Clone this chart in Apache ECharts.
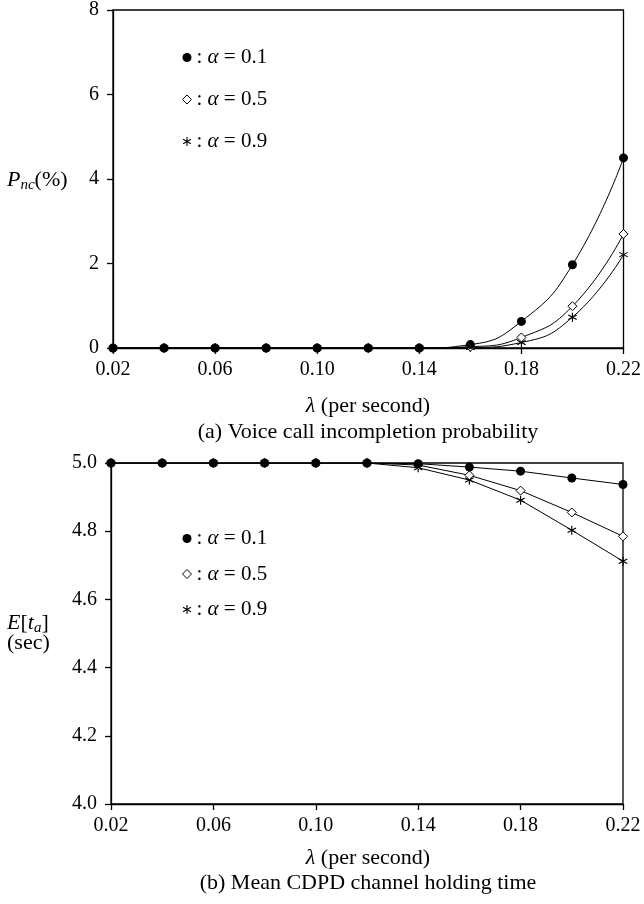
<!DOCTYPE html>
<html>
<head>
<meta charset="utf-8">
<script src="https://cdn.jsdelivr.net/npm/echarts@6/dist/echarts.min.js"></script>
<style>
  html, body { margin: 0; padding: 0; background: #fff; }
  #chart { width: 644px; height: 904px; }
</style>
</head>
<body>
<div id="chart"></div>
<script>
// Arrival rate λ (per second)
const lambdaValues = ['0.02', '0.04', '0.06', '0.08', '0.10', '0.12', '0.14', '0.16', '0.18', '0.20', '0.22'];
const seriesNames = ['α = 0.1', 'α = 0.5', 'α = 0.9'];

// (a) Voice call incompletion probability P_nc (%)
const pncAlpha01 = [0, 0, 0, 0, 0, 0, 0, 0.08, 0.63, 1.97, 4.50];
const pncAlpha05 = [0, 0, 0, 0, 0, 0, 0, 0.03, 0.25, 0.99, 2.70];
const pncAlpha09 = [0, 0, 0, 0, 0, 0, 0, 0.01, 0.13, 0.73, 2.21];
const pncTicks = { min: 0, max: 8, step: 2 };

// (b) Mean CDPD channel holding time E[t_a] (sec)
const holdAlpha01 = [5.0, 5.0, 5.0, 5.0, 5.0, 5.0, 4.998, 4.988, 4.976, 4.956, 4.937];
const holdAlpha05 = [5.0, 5.0, 5.0, 5.0, 5.0, 5.0, 4.994, 4.964, 4.919, 4.855, 4.785];
const holdAlpha09 = [5.0, 5.0, 5.0, 5.0, 5.0, 5.0, 4.986, 4.950, 4.891, 4.803, 4.712];
const holdTicks = { min: 4.0, max: 5.0, step: 0.2 };

const FONT = '"Liberation Serif", "DejaVu Serif", serif';
const STAR = 'path://M-1.2,-10L1.2,-10L1.2,10L-1.2,10Z' +
  'M8.06,-6.04L9.26,-3.96L-8.06,6.04L-9.26,3.96Z' +
  'M-9.26,-3.96L-8.06,-6.04L9.26,3.96L8.06,6.04Z';

const markerStyles = [
  { symbol: 'circle', size: 9, itemStyle: { color: '#000', borderColor: '#000', borderWidth: 0 } },
  { symbol: 'diamond', size: 9, itemStyle: { color: '#fff', borderColor: '#000', borderWidth: 1 } },
  { symbol: STAR, size: 9, itemStyle: { color: '#000', borderColor: '#000', borderWidth: 0 } }
];

function makeSeries(idx, gridIdx, data, smooth) {
  const m = markerStyles[idx];
  return {
    type: 'line',
    name: seriesNames[idx],
    xAxisIndex: gridIdx,
    yAxisIndex: gridIdx,
    data: data,
    smooth: smooth ? 0.5 : false,
    symbol: m.symbol,
    symbolSize: m.size,
    showAllSymbol: true,
    itemStyle: m.itemStyle,
    lineStyle: { color: '#000', width: 1 },
    z: 10 - idx,
    animation: false
  };
}

const legendText = {
  color: '#000',
  fontFamily: FONT,
  fontSize: 21,
  lineHeight: 20,
  rich: {
    n: { fontFamily: FONT, fontSize: 21, color: '#000' },
    i: { fontFamily: FONT, fontSize: 21, fontStyle: 'italic', color: '#000' }
  }
};

function legendFor(top, gap) {
  return {
    orient: 'vertical',
    left: 177,
    top: top,
    itemGap: gap,
    itemWidth: 9,
    itemHeight: 9,
    itemTextGap: 6,
    selectedMode: false,
    textStyle: legendText,
    formatter: function (name) {
      return '{n|: }{i|α}{n| = ' + name.split('= ')[1] + '}';
    },
    data: seriesNames.map(function (nm, k) {
      return { name: nm, icon: markerStyles[k].symbol, itemStyle: markerStyles[k].itemStyle };
    })
  };
}

function xAxisFor(gridIdx) {
  return {
    type: 'category',
    gridIndex: gridIdx,
    data: lambdaValues,
    boundaryGap: false,
    axisLine: { lineStyle: { color: '#000', width: 1.3 } },
    axisTick: { show: true, interval: 1, length: 6, lineStyle: { color: '#000', width: 1.3 } },
    axisLabel: { interval: 1, margin: 12, color: '#000', fontFamily: FONT, fontSize: 20 },
    splitLine: { show: false }
  };
}

function yAxisFor(gridIdx, t, digits) {
  return {
    type: 'value',
    gridIndex: gridIdx,
    min: t.min,
    max: t.max,
    interval: t.step,
    axisLine: { show: true, lineStyle: { color: '#000', width: 1.3 } },
    axisTick: { show: true, length: 6, lineStyle: { color: '#000', width: 1.3 } },
    axisLabel: {
      margin: 14, color: '#000', fontFamily: FONT, fontSize: 20,
      formatter: function (v) { return v.toFixed(digits); }
    },
    splitLine: { show: false }
  };
}

function textEl(x, y, text, align, rich, size) {
  return {
    type: 'text',
    x: x,
    y: y,
    style: {
      text: text,
      fill: '#000',
      font: (size || 22) + 'px ' + FONT,
      align: align,
      verticalAlign: 'middle',
      rich: rich
    }
  };
}

const mathRich = {
  n: { fontFamily: FONT, fontSize: 22, color: '#000' },
  i: { fontFamily: FONT, fontSize: 22, fontStyle: 'italic', color: '#000' },
  s: { fontFamily: FONT, fontSize: 15, fontStyle: 'italic', color: '#000', padding: [10, 0, 0, 0] }
};

const chart = echarts.init(document.getElementById('chart'), null, { renderer: 'canvas' });
chart.setOption({
  backgroundColor: '#fff',
  animation: false,
  grid: [
    { left: 113, right: 20, top: 6, height: 342, show: true, borderColor: '#000', borderWidth: 1.3, backgroundColor: 'transparent' },
    { left: 111, right: 21, top: 463, height: 341, show: true, borderColor: '#000', borderWidth: 1.3, backgroundColor: 'transparent' }
  ],
  xAxis: [xAxisFor(0), xAxisFor(1)],
  yAxis: [yAxisFor(0, pncTicks, 0), yAxisFor(1, holdTicks, 1)],
  legend: [legendFor(42, 21), legendFor(523, 14.5)],
  series: [
    makeSeries(0, 0, pncAlpha01, true),
    makeSeries(1, 0, pncAlpha05, true),
    makeSeries(2, 0, pncAlpha09, true),
    makeSeries(0, 1, holdAlpha01, false),
    makeSeries(1, 1, holdAlpha05, false),
    makeSeries(2, 1, holdAlpha09, false)
  ],
  graphic: [
    textEl(7, 180, '{i|P}{s|nc}{n|(%)}', 'left', mathRich),
    textEl(368, 406, '{i|λ}{n| (per second)}', 'center', mathRich),
    textEl(368, 432, '(a) Voice call incompletion probability', 'center'),
    textEl(7, 623, '{i|E}{n|[}{i|t}{s|a}{n|]}', 'left', mathRich),
    textEl(7, 643, '(sec)', 'left'),
    textEl(368, 858, '{i|λ}{n| (per second)}', 'center', mathRich),
    textEl(368, 883, '(b) Mean CDPD channel holding time', 'center')
  ]
});
</script>
</body>
</html>
